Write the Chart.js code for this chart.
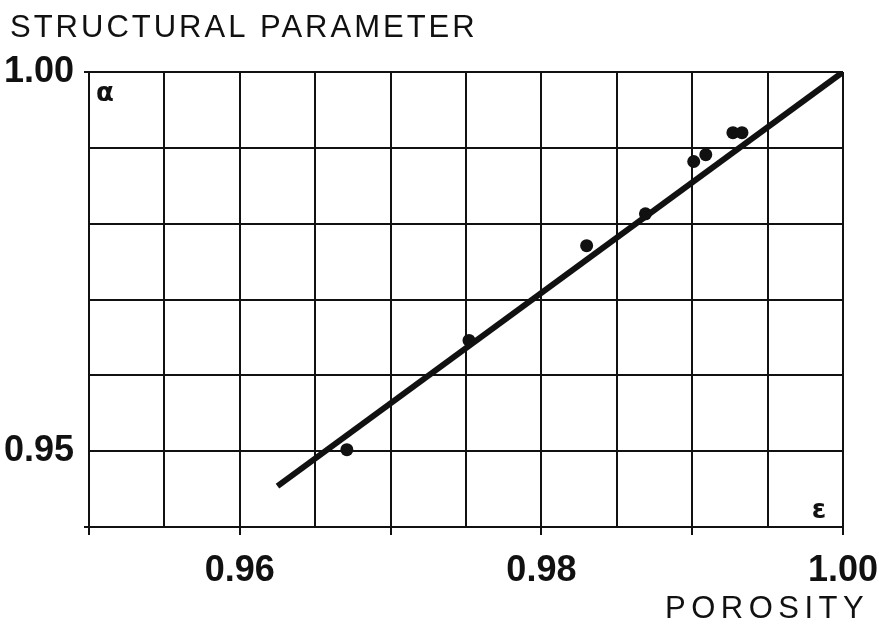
<!DOCTYPE html>
<html>
<head>
<meta charset="utf-8">
<script src="https://cdn.jsdelivr.net/npm/chart.js@4.4.0/dist/chart.umd.min.js"></script>
<style>
  html, body { margin: 0; padding: 0; background: #fff; }
  #wrap { width: 879px; height: 626px; position: relative; }
</style>
</head>
<body>
<div id="wrap"><canvas id="chart" width="879" height="626"></canvas></div>
<script>
// porosity (x) vs structural parameter (y)
const porosity = [0.9671, 0.9752, 0.9830, 0.9869, 0.9901, 0.9909, 0.9927, 0.9933];
const structural = [0.9502, 0.9646, 0.9771, 0.9813, 0.9882, 0.9891, 0.9920, 0.9920];

// fitted line end points
const fitX = [0.9625, 1.00];
const fitY = [0.9454, 1.00];

const xLabelTicks = [0.96, 0.98, 1.00];
const yLabelTicks = [0.95, 1.00];

const ink = '#111';
const near = (a, b) => Math.abs(a - b) < 1e-6;

const textPlugin = {
    id: 'texts',
    afterDraw(chart) {
        const c = chart.ctx;
        const area = chart.chartArea;
        c.save();
        c.fillStyle = ink;
        c.textBaseline = 'alphabetic';

        c.font = '31px "Liberation Sans", Arial, sans-serif';
        c.letterSpacing = '3px';
        c.textAlign = 'left';
        c.fillText('STRUCTURAL PARAMETER', 10, 37);

        c.letterSpacing = '5.5px';
        c.fillText('POROSITY', 665, 618);

        c.letterSpacing = '0px';
        c.font = 'bold 26px "DejaVu Sans", sans-serif';
        c.textAlign = 'center';
        c.textBaseline = 'middle';
        c.fillText('\u03b1', area.left + 16, area.top + 22);
        c.fillText('\u03b5', area.right - 24, area.bottom - 16);
        c.restore();
    }
};

new Chart(document.getElementById('chart').getContext('2d'), {
    type: 'scatter',
    data: {
        datasets: [
            {
                label: 'fit',
                data: fitX.map((x, i) => ({ x: x, y: fitY[i] })),
                showLine: true,
                borderColor: ink,
                borderWidth: 6,
                pointRadius: 0
            },
            {
                label: 'measured',
                data: porosity.map((x, i) => ({ x: x, y: structural[i] })),
                backgroundColor: ink,
                borderColor: ink,
                pointRadius: 6.5,
                borderWidth: 0
            }
        ]
    },
    options: {
        responsive: false,
        animation: false,
        layout: { padding: { top: 72, right: 36, left: 0, bottom: 0 } },
        plugins: {
            legend: { display: false },
            tooltip: { enabled: false }
        },
        scales: {
            x: {
                type: 'linear',
                min: 0.95,
                max: 1.00,
                afterFit: s => {
                    s.height = 99;
                    s.paddingLeft = 0;
                    s.paddingRight = 0;
                },
                border: { color: ink, width: 2 },
                grid: {
                    color: ink,
                    lineWidth: 2,
                    tickLength: 8,
                    tickColor: ctx => {
                        const v = ctx.tick ? ctx.tick.value : 0;
                        return near(Math.round(v * 100) / 100, v) ? ink : 'rgba(0,0,0,0)';
                    }
                },
                ticks: {
                    stepSize: 0.005,
                    autoSkip: false,
                    maxRotation: 0,
                    padding: 14,
                    color: ink,
                    font: { family: '"Liberation Sans", Arial, sans-serif', size: 36, weight: 'bold' },
                    callback: v => xLabelTicks.some(t => near(t, v)) ? v.toFixed(2) : ''
                }
            },
            y: {
                type: 'linear',
                min: 0.94,
                max: 1.00,
                afterFit: s => { s.width = 89; },
                border: { color: ink, width: 2 },
                grid: {
                    color: ink,
                    lineWidth: 2,
                    tickLength: 5,
                    tickColor: ctx => (ctx.tick && (near(ctx.tick.value, 1.00) || near(ctx.tick.value, 0.94))) ? ink : 'rgba(0,0,0,0)'
                },
                ticks: {
                    stepSize: 0.01,
                    autoSkip: false,
                    padding: 10,
                    color: ink,
                    font: { family: '"Liberation Sans", Arial, sans-serif', size: 36, weight: 'bold' },
                    callback: v => yLabelTicks.some(t => near(t, v)) ? v.toFixed(2) : ''
                }
            }
        }
    },
    plugins: [textPlugin]
});
</script>
</body>
</html>
